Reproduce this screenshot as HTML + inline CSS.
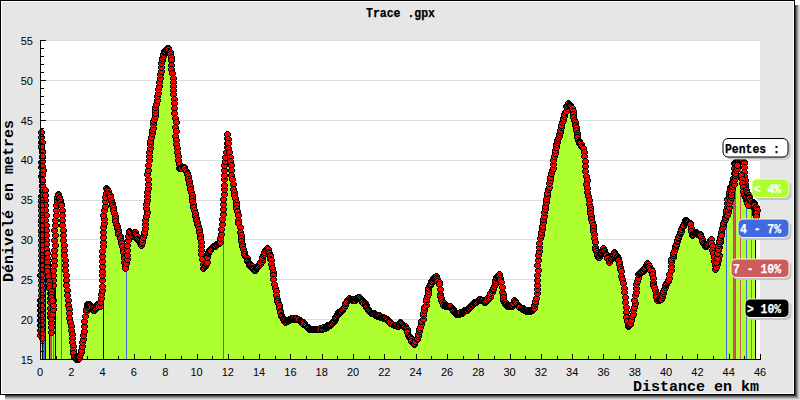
<!DOCTYPE html><html><head><meta charset="utf-8"><style>html,body{margin:0;padding:0;background:#fff;}svg{display:block}text{font-family:"Liberation Sans",sans-serif}.m{font-family:"Liberation Mono",monospace;font-weight:bold}</style></head><body><svg width="800" height="400" viewBox="0 0 800 400"><defs><linearGradient id="shr" x1="0" x2="1" y1="0" y2="0"><stop offset="0" stop-color="#404040"/><stop offset="1" stop-color="#e0e0e0"/></linearGradient><linearGradient id="shb" x1="0" x2="0" y1="0" y2="1"><stop offset="0" stop-color="#404040"/><stop offset="1" stop-color="#e0e0e0"/></linearGradient><g id="mk"><path d="M2 0h3v1h1v1h1v3h-1v1h-1v1h-3v-1h-1v-1h-1v-3h1v-1h1z" fill="#000"/><path d="M2 1h3v1h1v3h-1v1h-3v-1h-1v-3h1z" fill="#f00"/></g><clipPath id="pc"><rect x="40" y="40" width="720" height="320"/></clipPath><clipPath id="mc"><rect x="36" y="30" width="734" height="333"/></clipPath></defs><rect x="5" y="5" width="795" height="395" fill="#dadada"/><rect x="5" y="5" width="794" height="394" fill="#bebebe"/><rect x="5" y="5" width="793" height="393" fill="#989898"/><rect x="5" y="5" width="792" height="392" fill="#6a6a6a"/><rect x="5" y="5" width="791" height="391" fill="#383838"/><rect x="0" y="0" width="795" height="395" fill="#000"/><rect x="1" y="1" width="793" height="393" fill="#fff"/><rect x="2" y="2" width="791" height="391" fill="#e6e6e6"/><rect x="40" y="40" width="720" height="320" fill="#fff"/><path d="M40 319.5H760 M40 279.5H760 M40 239.5H760 M40 200.5H760 M40 160.5H760 M40 120.5H760 M40 80.5H760 M40 40.5H760" stroke="#dcdcdc" stroke-width="1" fill="none"/><g clip-path="url(#pc)"><polygon points="40,359.5 40.0,335.0 41.0,250.0 41.6,132.0 42.2,180.0 43.0,230.0 44.5,258.0 46.5,262.0 48.0,270.0 49.5,283.0 51.0,332.0 52.5,300.0 54.0,250.0 55.0,225.0 56.0,205.0 58.0,194.0 60.0,200.0 61.5,205.0 63.0,230.0 65.0,270.0 67.5,300.0 69.5,318.0 71.5,334.0 73.0,350.0 74.0,357.0 76.0,359.0 79.0,358.0 81.0,350.0 83.0,335.0 85.6,311.0 87.7,304.0 91.0,306.0 94.0,310.0 97.0,304.0 100.0,306.0 102.0,290.0 103.0,232.0 104.0,210.0 106.4,188.0 110.0,195.0 112.0,205.0 116.0,224.0 120.0,238.0 123.0,252.0 125.6,268.0 127.0,250.0 129.0,231.0 132.0,236.0 135.0,232.0 138.0,240.0 141.0,245.0 142.0,242.0 144.0,232.0 146.0,216.0 147.0,200.0 147.6,188.0 148.0,170.0 149.0,156.0 150.0,144.0 152.0,130.0 154.4,116.0 157.0,100.0 159.0,86.0 160.0,74.0 162.0,60.0 164.0,52.0 167.6,48.0 170.0,54.0 171.0,60.0 172.4,78.0 173.0,90.0 174.0,108.0 175.0,118.0 175.6,136.0 176.4,148.0 178.0,160.0 179.0,168.0 184.0,167.0 187.0,174.0 190.0,186.0 191.0,192.0 193.0,204.0 195.0,216.0 198.0,226.0 200.0,238.0 201.0,250.0 203.0,268.0 205.0,266.0 207.0,262.0 208.0,253.0 212.0,247.0 216.0,244.0 220.0,242.0 221.0,234.0 222.0,224.0 223.4,189.0 225.0,161.0 227.5,134.0 230.2,161.0 233.0,189.0 237.0,211.0 240.0,232.0 242.0,244.0 245.0,256.0 249.0,264.0 254.0,270.0 260.0,264.0 264.0,252.0 267.0,248.0 271.0,260.0 273.7,279.5 276.5,298.7 280.6,315.0 284.7,322.0 291.6,318.0 298.5,319.0 305.0,325.0 310.0,329.0 319.0,329.0 326.0,327.0 332.8,322.0 338.3,312.4 342.0,310.0 346.0,302.0 349.0,298.0 354.0,300.0 359.0,297.0 365.0,304.0 369.0,311.0 376.0,315.0 385.0,318.0 392.0,324.0 398.0,326.0 400.0,322.0 406.0,328.0 409.0,336.0 414.0,344.0 418.0,336.0 421.0,324.0 424.0,310.0 427.0,296.0 429.0,286.0 433.0,278.0 436.0,276.0 439.0,284.0 440.0,294.0 442.0,302.0 445.0,306.0 450.0,306.0 453.0,310.0 456.0,314.0 462.0,312.0 468.0,309.0 474.0,303.0 480.0,299.0 484.0,302.0 489.0,298.0 493.0,288.0 496.0,278.0 499.0,274.0 501.0,282.0 502.0,292.0 504.0,302.0 507.0,306.0 512.0,305.0 514.0,300.0 518.0,306.0 524.0,310.0 530.0,311.0 534.0,308.0 536.0,298.0 537.0,280.0 538.0,260.0 540.0,238.0 542.0,226.0 544.0,212.0 547.0,196.0 550.0,180.0 553.0,164.0 554.0,156.0 556.0,144.0 559.0,134.0 562.0,122.0 565.0,112.0 568.0,103.0 572.0,108.0 574.0,120.0 576.0,130.0 578.0,140.0 583.0,148.0 584.0,156.0 585.0,166.0 586.0,176.0 587.0,188.0 589.0,204.0 591.0,216.0 593.0,228.0 594.4,238.0 595.0,246.5 597.9,257.5 603.4,248.0 608.8,261.6 614.3,252.0 618.5,260.0 621.0,271.0 623.4,287.7 625.3,307.0 627.3,326.0 630.8,323.4 633.6,307.0 636.3,287.7 638.2,274.0 643.2,269.8 647.3,263.0 651.4,271.0 653.6,285.0 657.0,300.0 661.0,298.7 663.8,289.0 668.0,279.5 669.0,277.8 671.3,262.0 674.6,248.5 679.0,235.0 684.8,220.4 690.4,223.8 691.5,235.0 696.0,232.8 700.5,235.0 702.8,243.0 706.0,246.3 710.7,239.5 713.0,253.0 715.0,268.8 718.5,255.0 719.7,241.8 722.0,228.0 725.0,217.0 726.4,210.0 727.6,199.0 730.0,190.0 733.0,178.0 734.5,163.0 739.0,159.0 744.0,163.0 744.5,180.0 745.0,187.3 747.0,196.3 749.4,203.0 754.0,207.6 755.0,214.3 756.0,212.0 756,359.5" fill="#adff2f"/><rect x="42" y="198.7" width="1" height="160.3" fill="#000"/><rect x="43" y="239.3" width="1" height="119.7" fill="#4169e1"/><rect x="44" y="258.0" width="1" height="101.0" fill="#4169e1"/><rect x="45" y="260.0" width="1" height="99.0" fill="#000"/><rect x="49" y="283.0" width="1" height="76.0" fill="#000"/><rect x="50" y="315.7" width="1" height="43.3" fill="#cd5c5c"/><rect x="51" y="321.3" width="1" height="37.7" fill="#4169e1"/><rect x="53" y="266.7" width="1" height="92.3" fill="#4169e1"/><rect x="55" y="215.0" width="1" height="144.0" fill="#000"/><rect x="61" y="205.0" width="1" height="154.0" fill="#4169e1"/><rect x="103" y="221.0" width="1" height="138.0" fill="#000"/><rect x="126" y="256.4" width="1" height="102.6" fill="#4169e1"/><rect x="223" y="187.3" width="1" height="171.7" fill="#4169e1"/><rect x="726" y="209.1" width="1" height="149.9" fill="#4169e1"/><rect x="733" y="173.0" width="1" height="186.0" fill="#4169e1"/><rect x="734" y="163.0" width="1" height="196.0" fill="#cd5c5c"/><rect x="735" y="162.1" width="1" height="196.9" fill="#4169e1"/><rect x="740" y="160.2" width="1" height="198.8" fill="#cd5c5c"/><rect x="746" y="194.1" width="1" height="164.9" fill="#4169e1"/><rect x="751" y="205.1" width="1" height="153.9" fill="#cd5c5c"/><rect x="755" y="213.2" width="1" height="145.8" fill="#000"/></g><g shape-rendering="crispEdges" clip-path="url(#mc)"><use href="#mk" x="37" y="332"/><use href="#mk" x="37" y="327"/><use href="#mk" x="37" y="322"/><use href="#mk" x="37" y="317"/><use href="#mk" x="37" y="312"/><use href="#mk" x="37" y="307"/><use href="#mk" x="37" y="302"/><use href="#mk" x="37" y="297"/><use href="#mk" x="38" y="292"/><use href="#mk" x="38" y="287"/><use href="#mk" x="38" y="282"/><use href="#mk" x="38" y="277"/><use href="#mk" x="37" y="272"/><use href="#mk" x="38" y="267"/><use href="#mk" x="38" y="262"/><use href="#mk" x="38" y="257"/><use href="#mk" x="38" y="252"/><use href="#mk" x="38" y="247"/><use href="#mk" x="38" y="242"/><use href="#mk" x="38" y="237"/><use href="#mk" x="38" y="232"/><use href="#mk" x="38" y="228"/><use href="#mk" x="38" y="222"/><use href="#mk" x="38" y="218"/><use href="#mk" x="38" y="212"/><use href="#mk" x="39" y="207"/><use href="#mk" x="38" y="203"/><use href="#mk" x="38" y="198"/><use href="#mk" x="38" y="193"/><use href="#mk" x="39" y="188"/><use href="#mk" x="39" y="183"/><use href="#mk" x="39" y="178"/><use href="#mk" x="38" y="173"/><use href="#mk" x="39" y="169"/><use href="#mk" x="38" y="164"/><use href="#mk" x="38" y="159"/><use href="#mk" x="39" y="154"/><use href="#mk" x="39" y="148"/><use href="#mk" x="38" y="144"/><use href="#mk" x="38" y="139"/><use href="#mk" x="38" y="134"/><use href="#mk" x="38" y="129"/><use href="#mk" x="38" y="134"/><use href="#mk" x="39" y="139"/><use href="#mk" x="38" y="143"/><use href="#mk" x="39" y="149"/><use href="#mk" x="39" y="153"/><use href="#mk" x="39" y="158"/><use href="#mk" x="39" y="163"/><use href="#mk" x="40" y="167"/><use href="#mk" x="39" y="172"/><use href="#mk" x="39" y="177"/><use href="#mk" x="39" y="182"/><use href="#mk" x="39" y="187"/><use href="#mk" x="39" y="192"/><use href="#mk" x="40" y="197"/><use href="#mk" x="40" y="202"/><use href="#mk" x="40" y="207"/><use href="#mk" x="40" y="212"/><use href="#mk" x="40" y="217"/><use href="#mk" x="40" y="222"/><use href="#mk" x="40" y="227"/><use href="#mk" x="40" y="231"/><use href="#mk" x="40" y="236"/><use href="#mk" x="41" y="241"/><use href="#mk" x="41" y="245"/><use href="#mk" x="41" y="250"/><use href="#mk" x="41" y="255"/><use href="#mk" x="42" y="256"/><use href="#mk" x="42" y="257"/><use href="#mk" x="43" y="258"/><use href="#mk" x="44" y="259"/><use href="#mk" x="44" y="262"/><use href="#mk" x="44" y="264"/><use href="#mk" x="45" y="267"/><use href="#mk" x="46" y="271"/><use href="#mk" x="46" y="276"/><use href="#mk" x="47" y="280"/><use href="#mk" x="47" y="284"/><use href="#mk" x="47" y="290"/><use href="#mk" x="47" y="295"/><use href="#mk" x="47" y="299"/><use href="#mk" x="47" y="305"/><use href="#mk" x="47" y="310"/><use href="#mk" x="47" y="314"/><use href="#mk" x="48" y="320"/><use href="#mk" x="48" y="324"/><use href="#mk" x="48" y="329"/><use href="#mk" x="48" y="324"/><use href="#mk" x="48" y="319"/><use href="#mk" x="48" y="315"/><use href="#mk" x="49" y="311"/><use href="#mk" x="50" y="306"/><use href="#mk" x="50" y="302"/><use href="#mk" x="50" y="297"/><use href="#mk" x="49" y="292"/><use href="#mk" x="49" y="287"/><use href="#mk" x="50" y="282"/><use href="#mk" x="50" y="277"/><use href="#mk" x="50" y="272"/><use href="#mk" x="50" y="267"/><use href="#mk" x="51" y="262"/><use href="#mk" x="51" y="257"/><use href="#mk" x="51" y="252"/><use href="#mk" x="51" y="247"/><use href="#mk" x="52" y="242"/><use href="#mk" x="51" y="237"/><use href="#mk" x="52" y="232"/><use href="#mk" x="51" y="227"/><use href="#mk" x="52" y="222"/><use href="#mk" x="52" y="217"/><use href="#mk" x="53" y="212"/><use href="#mk" x="53" y="207"/><use href="#mk" x="53" y="202"/><use href="#mk" x="54" y="199"/><use href="#mk" x="54" y="197"/><use href="#mk" x="54" y="194"/><use href="#mk" x="55" y="191"/><use href="#mk" x="55" y="192"/><use href="#mk" x="56" y="194"/><use href="#mk" x="56" y="195"/><use href="#mk" x="57" y="197"/><use href="#mk" x="57" y="199"/><use href="#mk" x="58" y="201"/><use href="#mk" x="58" y="202"/><use href="#mk" x="59" y="207"/><use href="#mk" x="59" y="212"/><use href="#mk" x="59" y="217"/><use href="#mk" x="59" y="222"/><use href="#mk" x="60" y="227"/><use href="#mk" x="60" y="232"/><use href="#mk" x="60" y="237"/><use href="#mk" x="61" y="242"/><use href="#mk" x="61" y="247"/><use href="#mk" x="61" y="252"/><use href="#mk" x="62" y="257"/><use href="#mk" x="62" y="262"/><use href="#mk" x="62" y="267"/><use href="#mk" x="63" y="272"/><use href="#mk" x="63" y="277"/><use href="#mk" x="63" y="282"/><use href="#mk" x="64" y="287"/><use href="#mk" x="64" y="292"/><use href="#mk" x="65" y="297"/><use href="#mk" x="65" y="302"/><use href="#mk" x="66" y="306"/><use href="#mk" x="66" y="310"/><use href="#mk" x="66" y="315"/><use href="#mk" x="67" y="319"/><use href="#mk" x="68" y="323"/><use href="#mk" x="68" y="327"/><use href="#mk" x="69" y="331"/><use href="#mk" x="69" y="335"/><use href="#mk" x="69" y="339"/><use href="#mk" x="70" y="343"/><use href="#mk" x="70" y="347"/><use href="#mk" x="70" y="350"/><use href="#mk" x="71" y="354"/><use href="#mk" x="71" y="354"/><use href="#mk" x="72" y="355"/><use href="#mk" x="73" y="355"/><use href="#mk" x="73" y="356"/><use href="#mk" x="74" y="356"/><use href="#mk" x="74" y="356"/><use href="#mk" x="75" y="356"/><use href="#mk" x="75" y="355"/><use href="#mk" x="76" y="355"/><use href="#mk" x="76" y="353"/><use href="#mk" x="77" y="351"/><use href="#mk" x="78" y="349"/><use href="#mk" x="78" y="347"/><use href="#mk" x="79" y="343"/><use href="#mk" x="79" y="339"/><use href="#mk" x="80" y="336"/><use href="#mk" x="80" y="332"/><use href="#mk" x="81" y="328"/><use href="#mk" x="81" y="323"/><use href="#mk" x="81" y="318"/><use href="#mk" x="82" y="313"/><use href="#mk" x="83" y="308"/><use href="#mk" x="83" y="306"/><use href="#mk" x="84" y="304"/><use href="#mk" x="84" y="302"/><use href="#mk" x="84" y="301"/><use href="#mk" x="85" y="301"/><use href="#mk" x="86" y="301"/><use href="#mk" x="86" y="302"/><use href="#mk" x="87" y="302"/><use href="#mk" x="87" y="302"/><use href="#mk" x="88" y="303"/><use href="#mk" x="88" y="304"/><use href="#mk" x="90" y="304"/><use href="#mk" x="90" y="305"/><use href="#mk" x="90" y="307"/><use href="#mk" x="91" y="307"/><use href="#mk" x="92" y="306"/><use href="#mk" x="92" y="305"/><use href="#mk" x="93" y="304"/><use href="#mk" x="93" y="302"/><use href="#mk" x="94" y="301"/><use href="#mk" x="94" y="302"/><use href="#mk" x="95" y="301"/><use href="#mk" x="95" y="303"/><use href="#mk" x="97" y="303"/><use href="#mk" x="97" y="303"/><use href="#mk" x="97" y="299"/><use href="#mk" x="98" y="295"/><use href="#mk" x="98" y="291"/><use href="#mk" x="99" y="287"/><use href="#mk" x="99" y="283"/><use href="#mk" x="99" y="277"/><use href="#mk" x="99" y="272"/><use href="#mk" x="99" y="268"/><use href="#mk" x="99" y="263"/><use href="#mk" x="99" y="258"/><use href="#mk" x="99" y="253"/><use href="#mk" x="99" y="248"/><use href="#mk" x="100" y="243"/><use href="#mk" x="100" y="239"/><use href="#mk" x="100" y="234"/><use href="#mk" x="100" y="229"/><use href="#mk" x="100" y="224"/><use href="#mk" x="101" y="220"/><use href="#mk" x="101" y="216"/><use href="#mk" x="100" y="212"/><use href="#mk" x="101" y="207"/><use href="#mk" x="102" y="203"/><use href="#mk" x="102" y="198"/><use href="#mk" x="102" y="194"/><use href="#mk" x="103" y="190"/><use href="#mk" x="103" y="185"/><use href="#mk" x="104" y="186"/><use href="#mk" x="104" y="187"/><use href="#mk" x="105" y="188"/><use href="#mk" x="105" y="190"/><use href="#mk" x="106" y="191"/><use href="#mk" x="107" y="192"/><use href="#mk" x="107" y="194"/><use href="#mk" x="108" y="197"/><use href="#mk" x="109" y="200"/><use href="#mk" x="109" y="202"/><use href="#mk" x="110" y="204"/><use href="#mk" x="110" y="207"/><use href="#mk" x="111" y="210"/><use href="#mk" x="112" y="213"/><use href="#mk" x="112" y="215"/><use href="#mk" x="112" y="218"/><use href="#mk" x="113" y="221"/><use href="#mk" x="114" y="223"/><use href="#mk" x="114" y="225"/><use href="#mk" x="115" y="227"/><use href="#mk" x="115" y="229"/><use href="#mk" x="115" y="231"/><use href="#mk" x="117" y="233"/><use href="#mk" x="117" y="235"/><use href="#mk" x="118" y="238"/><use href="#mk" x="118" y="240"/><use href="#mk" x="119" y="243"/><use href="#mk" x="120" y="247"/><use href="#mk" x="120" y="249"/><use href="#mk" x="121" y="253"/><use href="#mk" x="121" y="255"/><use href="#mk" x="121" y="259"/><use href="#mk" x="122" y="262"/><use href="#mk" x="122" y="265"/><use href="#mk" x="123" y="260"/><use href="#mk" x="124" y="256"/><use href="#mk" x="124" y="252"/><use href="#mk" x="124" y="247"/><use href="#mk" x="124" y="242"/><use href="#mk" x="125" y="237"/><use href="#mk" x="125" y="233"/><use href="#mk" x="126" y="228"/><use href="#mk" x="126" y="229"/><use href="#mk" x="127" y="230"/><use href="#mk" x="128" y="231"/><use href="#mk" x="129" y="232"/><use href="#mk" x="129" y="233"/><use href="#mk" x="129" y="232"/><use href="#mk" x="131" y="231"/><use href="#mk" x="131" y="231"/><use href="#mk" x="131" y="229"/><use href="#mk" x="132" y="229"/><use href="#mk" x="132" y="231"/><use href="#mk" x="133" y="232"/><use href="#mk" x="134" y="233"/><use href="#mk" x="134" y="236"/><use href="#mk" x="135" y="237"/><use href="#mk" x="136" y="238"/><use href="#mk" x="137" y="239"/><use href="#mk" x="137" y="240"/><use href="#mk" x="138" y="241"/><use href="#mk" x="138" y="242"/><use href="#mk" x="138" y="240"/><use href="#mk" x="139" y="239"/><use href="#mk" x="139" y="236"/><use href="#mk" x="140" y="234"/><use href="#mk" x="141" y="231"/><use href="#mk" x="141" y="229"/><use href="#mk" x="142" y="225"/><use href="#mk" x="142" y="221"/><use href="#mk" x="142" y="217"/><use href="#mk" x="143" y="213"/><use href="#mk" x="144" y="209"/><use href="#mk" x="143" y="205"/><use href="#mk" x="143" y="201"/><use href="#mk" x="144" y="197"/><use href="#mk" x="144" y="193"/><use href="#mk" x="144" y="189"/><use href="#mk" x="145" y="185"/><use href="#mk" x="145" y="181"/><use href="#mk" x="145" y="176"/><use href="#mk" x="144" y="171"/><use href="#mk" x="145" y="167"/><use href="#mk" x="145" y="162"/><use href="#mk" x="146" y="157"/><use href="#mk" x="146" y="153"/><use href="#mk" x="146" y="149"/><use href="#mk" x="147" y="145"/><use href="#mk" x="147" y="141"/><use href="#mk" x="147" y="138"/><use href="#mk" x="148" y="134"/><use href="#mk" x="149" y="130"/><use href="#mk" x="149" y="127"/><use href="#mk" x="150" y="125"/><use href="#mk" x="150" y="121"/><use href="#mk" x="150" y="118"/><use href="#mk" x="151" y="116"/><use href="#mk" x="152" y="113"/><use href="#mk" x="152" y="110"/><use href="#mk" x="152" y="107"/><use href="#mk" x="152" y="104"/><use href="#mk" x="153" y="101"/><use href="#mk" x="154" y="97"/><use href="#mk" x="154" y="93"/><use href="#mk" x="155" y="90"/><use href="#mk" x="155" y="86"/><use href="#mk" x="156" y="83"/><use href="#mk" x="156" y="79"/><use href="#mk" x="157" y="75"/><use href="#mk" x="157" y="71"/><use href="#mk" x="158" y="68"/><use href="#mk" x="158" y="64"/><use href="#mk" x="158" y="60"/><use href="#mk" x="159" y="57"/><use href="#mk" x="159" y="55"/><use href="#mk" x="160" y="53"/><use href="#mk" x="160" y="51"/><use href="#mk" x="161" y="49"/><use href="#mk" x="161" y="48"/><use href="#mk" x="162" y="48"/><use href="#mk" x="163" y="47"/><use href="#mk" x="164" y="47"/><use href="#mk" x="164" y="45"/><use href="#mk" x="165" y="45"/><use href="#mk" x="165" y="46"/><use href="#mk" x="165" y="48"/><use href="#mk" x="166" y="49"/><use href="#mk" x="167" y="49"/><use href="#mk" x="167" y="51"/><use href="#mk" x="168" y="54"/><use href="#mk" x="168" y="57"/><use href="#mk" x="168" y="62"/><use href="#mk" x="168" y="66"/><use href="#mk" x="169" y="70"/><use href="#mk" x="170" y="75"/><use href="#mk" x="170" y="79"/><use href="#mk" x="170" y="83"/><use href="#mk" x="170" y="87"/><use href="#mk" x="170" y="91"/><use href="#mk" x="171" y="96"/><use href="#mk" x="171" y="100"/><use href="#mk" x="171" y="105"/><use href="#mk" x="171" y="110"/><use href="#mk" x="172" y="115"/><use href="#mk" x="173" y="119"/><use href="#mk" x="172" y="124"/><use href="#mk" x="173" y="128"/><use href="#mk" x="172" y="133"/><use href="#mk" x="173" y="137"/><use href="#mk" x="173" y="141"/><use href="#mk" x="174" y="145"/><use href="#mk" x="174" y="149"/><use href="#mk" x="175" y="153"/><use href="#mk" x="175" y="157"/><use href="#mk" x="176" y="161"/><use href="#mk" x="176" y="165"/><use href="#mk" x="176" y="165"/><use href="#mk" x="178" y="165"/><use href="#mk" x="177" y="165"/><use href="#mk" x="178" y="164"/><use href="#mk" x="178" y="165"/><use href="#mk" x="180" y="164"/><use href="#mk" x="180" y="164"/><use href="#mk" x="180" y="164"/><use href="#mk" x="181" y="164"/><use href="#mk" x="181" y="165"/><use href="#mk" x="182" y="167"/><use href="#mk" x="183" y="168"/><use href="#mk" x="184" y="170"/><use href="#mk" x="184" y="171"/><use href="#mk" x="185" y="173"/><use href="#mk" x="185" y="176"/><use href="#mk" x="186" y="178"/><use href="#mk" x="186" y="181"/><use href="#mk" x="187" y="183"/><use href="#mk" x="187" y="186"/><use href="#mk" x="188" y="189"/><use href="#mk" x="189" y="192"/><use href="#mk" x="189" y="195"/><use href="#mk" x="189" y="198"/><use href="#mk" x="190" y="201"/><use href="#mk" x="190" y="204"/><use href="#mk" x="191" y="207"/><use href="#mk" x="192" y="210"/><use href="#mk" x="192" y="213"/><use href="#mk" x="193" y="215"/><use href="#mk" x="193" y="217"/><use href="#mk" x="194" y="219"/><use href="#mk" x="194" y="221"/><use href="#mk" x="195" y="223"/><use href="#mk" x="196" y="226"/><use href="#mk" x="196" y="229"/><use href="#mk" x="197" y="232"/><use href="#mk" x="197" y="235"/><use href="#mk" x="198" y="239"/><use href="#mk" x="198" y="243"/><use href="#mk" x="198" y="247"/><use href="#mk" x="198" y="251"/><use href="#mk" x="199" y="256"/><use href="#mk" x="200" y="261"/><use href="#mk" x="200" y="265"/><use href="#mk" x="201" y="264"/><use href="#mk" x="201" y="264"/><use href="#mk" x="202" y="263"/><use href="#mk" x="202" y="263"/><use href="#mk" x="202" y="262"/><use href="#mk" x="203" y="261"/><use href="#mk" x="203" y="260"/><use href="#mk" x="204" y="259"/><use href="#mk" x="204" y="254"/><use href="#mk" x="205" y="250"/><use href="#mk" x="205" y="249"/><use href="#mk" x="206" y="248"/><use href="#mk" x="206" y="247"/><use href="#mk" x="207" y="247"/><use href="#mk" x="208" y="245"/><use href="#mk" x="208" y="245"/><use href="#mk" x="209" y="244"/><use href="#mk" x="209" y="244"/><use href="#mk" x="210" y="243"/><use href="#mk" x="211" y="243"/><use href="#mk" x="212" y="243"/><use href="#mk" x="212" y="242"/><use href="#mk" x="213" y="241"/><use href="#mk" x="213" y="241"/><use href="#mk" x="213" y="241"/><use href="#mk" x="214" y="241"/><use href="#mk" x="215" y="240"/><use href="#mk" x="215" y="240"/><use href="#mk" x="216" y="240"/><use href="#mk" x="216" y="239"/><use href="#mk" x="217" y="239"/><use href="#mk" x="217" y="235"/><use href="#mk" x="218" y="231"/><use href="#mk" x="218" y="226"/><use href="#mk" x="219" y="221"/><use href="#mk" x="219" y="216"/><use href="#mk" x="220" y="211"/><use href="#mk" x="220" y="206"/><use href="#mk" x="220" y="201"/><use href="#mk" x="220" y="196"/><use href="#mk" x="221" y="191"/><use href="#mk" x="221" y="186"/><use href="#mk" x="221" y="182"/><use href="#mk" x="221" y="176"/><use href="#mk" x="221" y="172"/><use href="#mk" x="221" y="167"/><use href="#mk" x="221" y="162"/><use href="#mk" x="222" y="158"/><use href="#mk" x="222" y="154"/><use href="#mk" x="223" y="149"/><use href="#mk" x="224" y="144"/><use href="#mk" x="224" y="140"/><use href="#mk" x="224" y="135"/><use href="#mk" x="224" y="131"/><use href="#mk" x="225" y="136"/><use href="#mk" x="225" y="140"/><use href="#mk" x="225" y="145"/><use href="#mk" x="226" y="149"/><use href="#mk" x="227" y="154"/><use href="#mk" x="227" y="158"/><use href="#mk" x="228" y="162"/><use href="#mk" x="228" y="167"/><use href="#mk" x="228" y="172"/><use href="#mk" x="229" y="176"/><use href="#mk" x="230" y="181"/><use href="#mk" x="230" y="186"/><use href="#mk" x="231" y="189"/><use href="#mk" x="231" y="192"/><use href="#mk" x="232" y="195"/><use href="#mk" x="233" y="199"/><use href="#mk" x="233" y="202"/><use href="#mk" x="233" y="205"/><use href="#mk" x="234" y="208"/><use href="#mk" x="235" y="212"/><use href="#mk" x="235" y="217"/><use href="#mk" x="235" y="220"/><use href="#mk" x="237" y="224"/><use href="#mk" x="237" y="229"/><use href="#mk" x="238" y="232"/><use href="#mk" x="238" y="235"/><use href="#mk" x="238" y="238"/><use href="#mk" x="239" y="241"/><use href="#mk" x="239" y="243"/><use href="#mk" x="240" y="246"/><use href="#mk" x="241" y="249"/><use href="#mk" x="241" y="251"/><use href="#mk" x="242" y="253"/><use href="#mk" x="243" y="254"/><use href="#mk" x="244" y="255"/><use href="#mk" x="244" y="257"/><use href="#mk" x="244" y="258"/><use href="#mk" x="245" y="259"/><use href="#mk" x="246" y="260"/><use href="#mk" x="246" y="261"/><use href="#mk" x="246" y="262"/><use href="#mk" x="247" y="262"/><use href="#mk" x="248" y="263"/><use href="#mk" x="249" y="263"/><use href="#mk" x="249" y="265"/><use href="#mk" x="249" y="265"/><use href="#mk" x="250" y="265"/><use href="#mk" x="250" y="266"/><use href="#mk" x="251" y="267"/><use href="#mk" x="252" y="267"/><use href="#mk" x="252" y="266"/><use href="#mk" x="253" y="265"/><use href="#mk" x="253" y="264"/><use href="#mk" x="254" y="264"/><use href="#mk" x="254" y="263"/><use href="#mk" x="255" y="263"/><use href="#mk" x="256" y="262"/><use href="#mk" x="256" y="262"/><use href="#mk" x="257" y="261"/><use href="#mk" x="257" y="259"/><use href="#mk" x="259" y="258"/><use href="#mk" x="259" y="256"/><use href="#mk" x="259" y="254"/><use href="#mk" x="260" y="252"/><use href="#mk" x="261" y="251"/><use href="#mk" x="261" y="249"/><use href="#mk" x="261" y="249"/><use href="#mk" x="262" y="247"/><use href="#mk" x="263" y="246"/><use href="#mk" x="263" y="246"/><use href="#mk" x="264" y="245"/><use href="#mk" x="265" y="246"/><use href="#mk" x="265" y="249"/><use href="#mk" x="266" y="250"/><use href="#mk" x="267" y="252"/><use href="#mk" x="267" y="253"/><use href="#mk" x="267" y="256"/><use href="#mk" x="268" y="257"/><use href="#mk" x="268" y="261"/><use href="#mk" x="269" y="265"/><use href="#mk" x="270" y="269"/><use href="#mk" x="270" y="272"/><use href="#mk" x="270" y="276"/><use href="#mk" x="271" y="281"/><use href="#mk" x="272" y="285"/><use href="#mk" x="273" y="288"/><use href="#mk" x="273" y="292"/><use href="#mk" x="274" y="296"/><use href="#mk" x="274" y="298"/><use href="#mk" x="275" y="300"/><use href="#mk" x="276" y="302"/><use href="#mk" x="276" y="305"/><use href="#mk" x="277" y="308"/><use href="#mk" x="277" y="309"/><use href="#mk" x="278" y="312"/><use href="#mk" x="278" y="313"/><use href="#mk" x="279" y="314"/><use href="#mk" x="280" y="315"/><use href="#mk" x="280" y="316"/><use href="#mk" x="281" y="317"/><use href="#mk" x="281" y="318"/><use href="#mk" x="282" y="319"/><use href="#mk" x="282" y="319"/><use href="#mk" x="282" y="319"/><use href="#mk" x="283" y="318"/><use href="#mk" x="284" y="318"/><use href="#mk" x="284" y="317"/><use href="#mk" x="285" y="317"/><use href="#mk" x="286" y="317"/><use href="#mk" x="286" y="317"/><use href="#mk" x="286" y="316"/><use href="#mk" x="287" y="316"/><use href="#mk" x="288" y="316"/><use href="#mk" x="288" y="315"/><use href="#mk" x="290" y="316"/><use href="#mk" x="289" y="315"/><use href="#mk" x="290" y="315"/><use href="#mk" x="291" y="316"/><use href="#mk" x="292" y="316"/><use href="#mk" x="292" y="315"/><use href="#mk" x="292" y="315"/><use href="#mk" x="293" y="315"/><use href="#mk" x="294" y="316"/><use href="#mk" x="294" y="316"/><use href="#mk" x="295" y="316"/><use href="#mk" x="295" y="316"/><use href="#mk" x="297" y="317"/><use href="#mk" x="297" y="317"/><use href="#mk" x="297" y="318"/><use href="#mk" x="298" y="318"/><use href="#mk" x="298" y="319"/><use href="#mk" x="299" y="319"/><use href="#mk" x="300" y="319"/><use href="#mk" x="301" y="320"/><use href="#mk" x="300" y="321"/><use href="#mk" x="302" y="322"/><use href="#mk" x="302" y="322"/><use href="#mk" x="303" y="323"/><use href="#mk" x="303" y="323"/><use href="#mk" x="304" y="324"/><use href="#mk" x="304" y="324"/><use href="#mk" x="305" y="324"/><use href="#mk" x="306" y="325"/><use href="#mk" x="305" y="325"/><use href="#mk" x="306" y="326"/><use href="#mk" x="307" y="326"/><use href="#mk" x="308" y="326"/><use href="#mk" x="308" y="326"/><use href="#mk" x="309" y="326"/><use href="#mk" x="310" y="326"/><use href="#mk" x="310" y="326"/><use href="#mk" x="311" y="326"/><use href="#mk" x="311" y="326"/><use href="#mk" x="312" y="326"/><use href="#mk" x="312" y="326"/><use href="#mk" x="313" y="326"/><use href="#mk" x="313" y="326"/><use href="#mk" x="314" y="326"/><use href="#mk" x="315" y="326"/><use href="#mk" x="315" y="326"/><use href="#mk" x="316" y="326"/><use href="#mk" x="316" y="326"/><use href="#mk" x="318" y="325"/><use href="#mk" x="317" y="325"/><use href="#mk" x="319" y="326"/><use href="#mk" x="319" y="325"/><use href="#mk" x="319" y="325"/><use href="#mk" x="320" y="324"/><use href="#mk" x="320" y="324"/><use href="#mk" x="322" y="325"/><use href="#mk" x="321" y="325"/><use href="#mk" x="322" y="324"/><use href="#mk" x="323" y="324"/><use href="#mk" x="324" y="324"/><use href="#mk" x="324" y="323"/><use href="#mk" x="324" y="322"/><use href="#mk" x="325" y="322"/><use href="#mk" x="326" y="322"/><use href="#mk" x="327" y="322"/><use href="#mk" x="327" y="321"/><use href="#mk" x="327" y="321"/><use href="#mk" x="328" y="320"/><use href="#mk" x="329" y="320"/><use href="#mk" x="329" y="320"/><use href="#mk" x="330" y="319"/><use href="#mk" x="331" y="318"/><use href="#mk" x="331" y="317"/><use href="#mk" x="332" y="316"/><use href="#mk" x="332" y="315"/><use href="#mk" x="332" y="314"/><use href="#mk" x="333" y="313"/><use href="#mk" x="334" y="312"/><use href="#mk" x="334" y="311"/><use href="#mk" x="335" y="310"/><use href="#mk" x="335" y="309"/><use href="#mk" x="336" y="309"/><use href="#mk" x="336" y="309"/><use href="#mk" x="337" y="308"/><use href="#mk" x="337" y="309"/><use href="#mk" x="337" y="308"/><use href="#mk" x="338" y="308"/><use href="#mk" x="339" y="307"/><use href="#mk" x="339" y="306"/><use href="#mk" x="340" y="305"/><use href="#mk" x="341" y="304"/><use href="#mk" x="342" y="302"/><use href="#mk" x="342" y="302"/><use href="#mk" x="342" y="300"/><use href="#mk" x="343" y="299"/><use href="#mk" x="343" y="299"/><use href="#mk" x="344" y="297"/><use href="#mk" x="345" y="296"/><use href="#mk" x="345" y="296"/><use href="#mk" x="346" y="295"/><use href="#mk" x="346" y="295"/><use href="#mk" x="347" y="296"/><use href="#mk" x="348" y="296"/><use href="#mk" x="348" y="296"/><use href="#mk" x="349" y="296"/><use href="#mk" x="349" y="297"/><use href="#mk" x="350" y="297"/><use href="#mk" x="350" y="297"/><use href="#mk" x="351" y="297"/><use href="#mk" x="351" y="297"/><use href="#mk" x="352" y="297"/><use href="#mk" x="353" y="296"/><use href="#mk" x="353" y="295"/><use href="#mk" x="354" y="295"/><use href="#mk" x="355" y="295"/><use href="#mk" x="355" y="294"/><use href="#mk" x="355" y="294"/><use href="#mk" x="356" y="294"/><use href="#mk" x="356" y="294"/><use href="#mk" x="357" y="295"/><use href="#mk" x="358" y="296"/><use href="#mk" x="359" y="297"/><use href="#mk" x="359" y="298"/><use href="#mk" x="359" y="299"/><use href="#mk" x="361" y="299"/><use href="#mk" x="360" y="300"/><use href="#mk" x="362" y="300"/><use href="#mk" x="362" y="301"/><use href="#mk" x="363" y="302"/><use href="#mk" x="363" y="303"/><use href="#mk" x="363" y="304"/><use href="#mk" x="364" y="305"/><use href="#mk" x="365" y="306"/><use href="#mk" x="365" y="307"/><use href="#mk" x="366" y="308"/><use href="#mk" x="367" y="309"/><use href="#mk" x="367" y="309"/><use href="#mk" x="367" y="309"/><use href="#mk" x="368" y="310"/><use href="#mk" x="369" y="310"/><use href="#mk" x="370" y="310"/><use href="#mk" x="370" y="310"/><use href="#mk" x="371" y="310"/><use href="#mk" x="371" y="311"/><use href="#mk" x="372" y="311"/><use href="#mk" x="372" y="312"/><use href="#mk" x="373" y="312"/><use href="#mk" x="374" y="312"/><use href="#mk" x="374" y="313"/><use href="#mk" x="375" y="313"/><use href="#mk" x="376" y="312"/><use href="#mk" x="376" y="313"/><use href="#mk" x="376" y="313"/><use href="#mk" x="377" y="314"/><use href="#mk" x="378" y="314"/><use href="#mk" x="378" y="314"/><use href="#mk" x="379" y="314"/><use href="#mk" x="380" y="314"/><use href="#mk" x="380" y="315"/><use href="#mk" x="381" y="315"/><use href="#mk" x="381" y="315"/><use href="#mk" x="382" y="315"/><use href="#mk" x="383" y="316"/><use href="#mk" x="383" y="316"/><use href="#mk" x="384" y="316"/><use href="#mk" x="384" y="317"/><use href="#mk" x="385" y="318"/><use href="#mk" x="386" y="318"/><use href="#mk" x="386" y="318"/><use href="#mk" x="386" y="319"/><use href="#mk" x="387" y="320"/><use href="#mk" x="387" y="320"/><use href="#mk" x="389" y="321"/><use href="#mk" x="389" y="321"/><use href="#mk" x="389" y="321"/><use href="#mk" x="391" y="322"/><use href="#mk" x="391" y="322"/><use href="#mk" x="392" y="322"/><use href="#mk" x="392" y="322"/><use href="#mk" x="393" y="322"/><use href="#mk" x="393" y="322"/><use href="#mk" x="394" y="323"/><use href="#mk" x="395" y="322"/><use href="#mk" x="395" y="323"/><use href="#mk" x="396" y="322"/><use href="#mk" x="396" y="321"/><use href="#mk" x="397" y="320"/><use href="#mk" x="397" y="319"/><use href="#mk" x="397" y="320"/><use href="#mk" x="398" y="320"/><use href="#mk" x="399" y="321"/><use href="#mk" x="399" y="321"/><use href="#mk" x="400" y="322"/><use href="#mk" x="401" y="323"/><use href="#mk" x="402" y="323"/><use href="#mk" x="401" y="324"/><use href="#mk" x="402" y="325"/><use href="#mk" x="403" y="325"/><use href="#mk" x="404" y="326"/><use href="#mk" x="404" y="328"/><use href="#mk" x="404" y="329"/><use href="#mk" x="405" y="332"/><use href="#mk" x="406" y="333"/><use href="#mk" x="406" y="334"/><use href="#mk" x="407" y="334"/><use href="#mk" x="408" y="335"/><use href="#mk" x="408" y="336"/><use href="#mk" x="408" y="338"/><use href="#mk" x="410" y="339"/><use href="#mk" x="410" y="339"/><use href="#mk" x="411" y="340"/><use href="#mk" x="411" y="341"/><use href="#mk" x="411" y="340"/><use href="#mk" x="412" y="338"/><use href="#mk" x="412" y="338"/><use href="#mk" x="414" y="336"/><use href="#mk" x="414" y="336"/><use href="#mk" x="414" y="335"/><use href="#mk" x="415" y="333"/><use href="#mk" x="415" y="331"/><use href="#mk" x="416" y="328"/><use href="#mk" x="416" y="326"/><use href="#mk" x="417" y="324"/><use href="#mk" x="418" y="321"/><use href="#mk" x="418" y="318"/><use href="#mk" x="420" y="316"/><use href="#mk" x="420" y="312"/><use href="#mk" x="420" y="310"/><use href="#mk" x="421" y="307"/><use href="#mk" x="421" y="304"/><use href="#mk" x="423" y="302"/><use href="#mk" x="423" y="298"/><use href="#mk" x="423" y="296"/><use href="#mk" x="424" y="293"/><use href="#mk" x="425" y="291"/><use href="#mk" x="425" y="288"/><use href="#mk" x="425" y="285"/><use href="#mk" x="426" y="283"/><use href="#mk" x="427" y="282"/><use href="#mk" x="427" y="281"/><use href="#mk" x="428" y="280"/><use href="#mk" x="428" y="278"/><use href="#mk" x="429" y="278"/><use href="#mk" x="430" y="277"/><use href="#mk" x="430" y="275"/><use href="#mk" x="431" y="275"/><use href="#mk" x="431" y="274"/><use href="#mk" x="432" y="274"/><use href="#mk" x="433" y="274"/><use href="#mk" x="433" y="273"/><use href="#mk" x="433" y="275"/><use href="#mk" x="434" y="276"/><use href="#mk" x="434" y="278"/><use href="#mk" x="436" y="279"/><use href="#mk" x="436" y="281"/><use href="#mk" x="437" y="286"/><use href="#mk" x="437" y="291"/><use href="#mk" x="437" y="293"/><use href="#mk" x="438" y="295"/><use href="#mk" x="438" y="297"/><use href="#mk" x="439" y="299"/><use href="#mk" x="439" y="299"/><use href="#mk" x="441" y="300"/><use href="#mk" x="440" y="302"/><use href="#mk" x="442" y="302"/><use href="#mk" x="442" y="303"/><use href="#mk" x="443" y="303"/><use href="#mk" x="443" y="303"/><use href="#mk" x="444" y="303"/><use href="#mk" x="444" y="303"/><use href="#mk" x="445" y="303"/><use href="#mk" x="446" y="303"/><use href="#mk" x="446" y="303"/><use href="#mk" x="446" y="303"/><use href="#mk" x="447" y="303"/><use href="#mk" x="447" y="303"/><use href="#mk" x="448" y="305"/><use href="#mk" x="449" y="306"/><use href="#mk" x="450" y="306"/><use href="#mk" x="450" y="307"/><use href="#mk" x="450" y="308"/><use href="#mk" x="451" y="309"/><use href="#mk" x="452" y="310"/><use href="#mk" x="453" y="310"/><use href="#mk" x="453" y="311"/><use href="#mk" x="454" y="311"/><use href="#mk" x="454" y="310"/><use href="#mk" x="455" y="310"/><use href="#mk" x="456" y="311"/><use href="#mk" x="456" y="310"/><use href="#mk" x="457" y="310"/><use href="#mk" x="457" y="310"/><use href="#mk" x="457" y="309"/><use href="#mk" x="459" y="310"/><use href="#mk" x="459" y="309"/><use href="#mk" x="460" y="309"/><use href="#mk" x="460" y="308"/><use href="#mk" x="461" y="308"/><use href="#mk" x="461" y="307"/><use href="#mk" x="462" y="307"/><use href="#mk" x="463" y="307"/><use href="#mk" x="463" y="307"/><use href="#mk" x="463" y="307"/><use href="#mk" x="464" y="307"/><use href="#mk" x="465" y="306"/><use href="#mk" x="465" y="305"/><use href="#mk" x="466" y="305"/><use href="#mk" x="467" y="304"/><use href="#mk" x="467" y="303"/><use href="#mk" x="468" y="303"/><use href="#mk" x="469" y="302"/><use href="#mk" x="469" y="301"/><use href="#mk" x="470" y="301"/><use href="#mk" x="470" y="301"/><use href="#mk" x="471" y="300"/><use href="#mk" x="471" y="299"/><use href="#mk" x="473" y="299"/><use href="#mk" x="472" y="299"/><use href="#mk" x="473" y="299"/><use href="#mk" x="474" y="298"/><use href="#mk" x="474" y="298"/><use href="#mk" x="475" y="297"/><use href="#mk" x="476" y="297"/><use href="#mk" x="476" y="296"/><use href="#mk" x="477" y="296"/><use href="#mk" x="478" y="297"/><use href="#mk" x="478" y="297"/><use href="#mk" x="479" y="297"/><use href="#mk" x="480" y="298"/><use href="#mk" x="480" y="298"/><use href="#mk" x="481" y="298"/><use href="#mk" x="481" y="299"/><use href="#mk" x="482" y="299"/><use href="#mk" x="482" y="298"/><use href="#mk" x="483" y="297"/><use href="#mk" x="483" y="297"/><use href="#mk" x="483" y="297"/><use href="#mk" x="485" y="296"/><use href="#mk" x="484" y="295"/><use href="#mk" x="486" y="295"/><use href="#mk" x="486" y="295"/><use href="#mk" x="487" y="294"/><use href="#mk" x="487" y="292"/><use href="#mk" x="487" y="290"/><use href="#mk" x="489" y="289"/><use href="#mk" x="489" y="287"/><use href="#mk" x="490" y="286"/><use href="#mk" x="490" y="285"/><use href="#mk" x="491" y="283"/><use href="#mk" x="492" y="281"/><use href="#mk" x="492" y="279"/><use href="#mk" x="492" y="277"/><use href="#mk" x="493" y="275"/><use href="#mk" x="493" y="274"/><use href="#mk" x="494" y="273"/><use href="#mk" x="495" y="273"/><use href="#mk" x="495" y="272"/><use href="#mk" x="496" y="271"/><use href="#mk" x="496" y="273"/><use href="#mk" x="497" y="275"/><use href="#mk" x="497" y="277"/><use href="#mk" x="498" y="279"/><use href="#mk" x="499" y="284"/><use href="#mk" x="499" y="289"/><use href="#mk" x="500" y="291"/><use href="#mk" x="500" y="294"/><use href="#mk" x="500" y="297"/><use href="#mk" x="501" y="299"/><use href="#mk" x="502" y="299"/><use href="#mk" x="502" y="301"/><use href="#mk" x="503" y="301"/><use href="#mk" x="504" y="302"/><use href="#mk" x="504" y="303"/><use href="#mk" x="504" y="303"/><use href="#mk" x="505" y="303"/><use href="#mk" x="505" y="302"/><use href="#mk" x="506" y="302"/><use href="#mk" x="507" y="303"/><use href="#mk" x="507" y="302"/><use href="#mk" x="508" y="302"/><use href="#mk" x="509" y="303"/><use href="#mk" x="509" y="302"/><use href="#mk" x="510" y="301"/><use href="#mk" x="510" y="300"/><use href="#mk" x="511" y="298"/><use href="#mk" x="511" y="297"/><use href="#mk" x="512" y="298"/><use href="#mk" x="512" y="299"/><use href="#mk" x="513" y="300"/><use href="#mk" x="513" y="300"/><use href="#mk" x="514" y="302"/><use href="#mk" x="514" y="302"/><use href="#mk" x="515" y="303"/><use href="#mk" x="516" y="303"/><use href="#mk" x="516" y="304"/><use href="#mk" x="516" y="304"/><use href="#mk" x="518" y="305"/><use href="#mk" x="518" y="305"/><use href="#mk" x="519" y="306"/><use href="#mk" x="520" y="305"/><use href="#mk" x="520" y="306"/><use href="#mk" x="521" y="306"/><use href="#mk" x="521" y="307"/><use href="#mk" x="522" y="307"/><use href="#mk" x="522" y="307"/><use href="#mk" x="523" y="307"/><use href="#mk" x="523" y="308"/><use href="#mk" x="524" y="308"/><use href="#mk" x="525" y="308"/><use href="#mk" x="525" y="308"/><use href="#mk" x="526" y="307"/><use href="#mk" x="526" y="308"/><use href="#mk" x="527" y="308"/><use href="#mk" x="527" y="307"/><use href="#mk" x="528" y="307"/><use href="#mk" x="529" y="307"/><use href="#mk" x="529" y="306"/><use href="#mk" x="530" y="306"/><use href="#mk" x="530" y="305"/><use href="#mk" x="531" y="305"/><use href="#mk" x="531" y="302"/><use href="#mk" x="532" y="300"/><use href="#mk" x="532" y="298"/><use href="#mk" x="533" y="295"/><use href="#mk" x="534" y="290"/><use href="#mk" x="534" y="286"/><use href="#mk" x="534" y="282"/><use href="#mk" x="534" y="277"/><use href="#mk" x="534" y="272"/><use href="#mk" x="535" y="267"/><use href="#mk" x="534" y="262"/><use href="#mk" x="535" y="257"/><use href="#mk" x="535" y="252"/><use href="#mk" x="536" y="248"/><use href="#mk" x="536" y="244"/><use href="#mk" x="536" y="240"/><use href="#mk" x="537" y="235"/><use href="#mk" x="538" y="232"/><use href="#mk" x="538" y="229"/><use href="#mk" x="539" y="226"/><use href="#mk" x="539" y="223"/><use href="#mk" x="540" y="219"/><use href="#mk" x="540" y="216"/><use href="#mk" x="541" y="213"/><use href="#mk" x="541" y="209"/><use href="#mk" x="542" y="206"/><use href="#mk" x="542" y="203"/><use href="#mk" x="543" y="199"/><use href="#mk" x="543" y="196"/><use href="#mk" x="544" y="193"/><use href="#mk" x="544" y="190"/><use href="#mk" x="545" y="186"/><use href="#mk" x="546" y="184"/><use href="#mk" x="546" y="180"/><use href="#mk" x="547" y="177"/><use href="#mk" x="547" y="174"/><use href="#mk" x="548" y="170"/><use href="#mk" x="549" y="167"/><use href="#mk" x="550" y="165"/><use href="#mk" x="550" y="161"/><use href="#mk" x="550" y="157"/><use href="#mk" x="551" y="153"/><use href="#mk" x="552" y="150"/><use href="#mk" x="552" y="147"/><use href="#mk" x="553" y="144"/><use href="#mk" x="553" y="141"/><use href="#mk" x="554" y="139"/><use href="#mk" x="554" y="137"/><use href="#mk" x="555" y="135"/><use href="#mk" x="556" y="133"/><use href="#mk" x="556" y="131"/><use href="#mk" x="557" y="129"/><use href="#mk" x="557" y="127"/><use href="#mk" x="558" y="124"/><use href="#mk" x="558" y="122"/><use href="#mk" x="559" y="119"/><use href="#mk" x="560" y="117"/><use href="#mk" x="560" y="115"/><use href="#mk" x="561" y="113"/><use href="#mk" x="561" y="111"/><use href="#mk" x="562" y="109"/><use href="#mk" x="563" y="108"/><use href="#mk" x="564" y="105"/><use href="#mk" x="563" y="103"/><use href="#mk" x="564" y="102"/><use href="#mk" x="565" y="100"/><use href="#mk" x="566" y="101"/><use href="#mk" x="566" y="102"/><use href="#mk" x="567" y="102"/><use href="#mk" x="567" y="103"/><use href="#mk" x="568" y="104"/><use href="#mk" x="568" y="104"/><use href="#mk" x="569" y="105"/><use href="#mk" x="570" y="108"/><use href="#mk" x="570" y="111"/><use href="#mk" x="570" y="114"/><use href="#mk" x="571" y="117"/><use href="#mk" x="572" y="119"/><use href="#mk" x="572" y="122"/><use href="#mk" x="573" y="124"/><use href="#mk" x="573" y="127"/><use href="#mk" x="574" y="130"/><use href="#mk" x="574" y="132"/><use href="#mk" x="574" y="134"/><use href="#mk" x="575" y="137"/><use href="#mk" x="576" y="138"/><use href="#mk" x="576" y="139"/><use href="#mk" x="576" y="140"/><use href="#mk" x="577" y="140"/><use href="#mk" x="578" y="141"/><use href="#mk" x="578" y="143"/><use href="#mk" x="579" y="144"/><use href="#mk" x="579" y="144"/><use href="#mk" x="580" y="145"/><use href="#mk" x="581" y="149"/><use href="#mk" x="581" y="153"/><use href="#mk" x="582" y="158"/><use href="#mk" x="582" y="163"/><use href="#mk" x="582" y="168"/><use href="#mk" x="583" y="173"/><use href="#mk" x="584" y="177"/><use href="#mk" x="583" y="181"/><use href="#mk" x="584" y="185"/><use href="#mk" x="584" y="189"/><use href="#mk" x="585" y="193"/><use href="#mk" x="586" y="197"/><use href="#mk" x="586" y="201"/><use href="#mk" x="587" y="204"/><use href="#mk" x="587" y="207"/><use href="#mk" x="587" y="210"/><use href="#mk" x="588" y="213"/><use href="#mk" x="588" y="216"/><use href="#mk" x="589" y="219"/><use href="#mk" x="590" y="222"/><use href="#mk" x="590" y="225"/><use href="#mk" x="590" y="228"/><use href="#mk" x="591" y="231"/><use href="#mk" x="591" y="235"/><use href="#mk" x="592" y="239"/><use href="#mk" x="592" y="244"/><use href="#mk" x="592" y="246"/><use href="#mk" x="593" y="248"/><use href="#mk" x="594" y="250"/><use href="#mk" x="594" y="252"/><use href="#mk" x="595" y="254"/><use href="#mk" x="596" y="254"/><use href="#mk" x="596" y="252"/><use href="#mk" x="597" y="251"/><use href="#mk" x="597" y="250"/><use href="#mk" x="598" y="250"/><use href="#mk" x="598" y="249"/><use href="#mk" x="599" y="248"/><use href="#mk" x="599" y="247"/><use href="#mk" x="600" y="246"/><use href="#mk" x="600" y="245"/><use href="#mk" x="601" y="247"/><use href="#mk" x="601" y="248"/><use href="#mk" x="602" y="250"/><use href="#mk" x="603" y="251"/><use href="#mk" x="603" y="252"/><use href="#mk" x="604" y="254"/><use href="#mk" x="604" y="255"/><use href="#mk" x="606" y="257"/><use href="#mk" x="606" y="259"/><use href="#mk" x="606" y="257"/><use href="#mk" x="606" y="257"/><use href="#mk" x="608" y="256"/><use href="#mk" x="608" y="255"/><use href="#mk" x="609" y="254"/><use href="#mk" x="609" y="253"/><use href="#mk" x="610" y="252"/><use href="#mk" x="610" y="251"/><use href="#mk" x="611" y="250"/><use href="#mk" x="611" y="249"/><use href="#mk" x="611" y="250"/><use href="#mk" x="612" y="251"/><use href="#mk" x="612" y="252"/><use href="#mk" x="614" y="253"/><use href="#mk" x="614" y="254"/><use href="#mk" x="615" y="255"/><use href="#mk" x="615" y="256"/><use href="#mk" x="615" y="257"/><use href="#mk" x="616" y="259"/><use href="#mk" x="616" y="261"/><use href="#mk" x="617" y="264"/><use href="#mk" x="617" y="266"/><use href="#mk" x="618" y="268"/><use href="#mk" x="618" y="273"/><use href="#mk" x="619" y="276"/><use href="#mk" x="620" y="280"/><use href="#mk" x="621" y="285"/><use href="#mk" x="621" y="289"/><use href="#mk" x="622" y="294"/><use href="#mk" x="622" y="299"/><use href="#mk" x="623" y="304"/><use href="#mk" x="623" y="309"/><use href="#mk" x="623" y="314"/><use href="#mk" x="624" y="318"/><use href="#mk" x="625" y="323"/><use href="#mk" x="625" y="322"/><use href="#mk" x="626" y="322"/><use href="#mk" x="626" y="322"/><use href="#mk" x="627" y="321"/><use href="#mk" x="627" y="321"/><use href="#mk" x="627" y="320"/><use href="#mk" x="628" y="317"/><use href="#mk" x="629" y="313"/><use href="#mk" x="630" y="311"/><use href="#mk" x="630" y="307"/><use href="#mk" x="631" y="304"/><use href="#mk" x="632" y="300"/><use href="#mk" x="631" y="297"/><use href="#mk" x="632" y="292"/><use href="#mk" x="633" y="289"/><use href="#mk" x="633" y="285"/><use href="#mk" x="633" y="281"/><use href="#mk" x="634" y="278"/><use href="#mk" x="635" y="275"/><use href="#mk" x="635" y="271"/><use href="#mk" x="636" y="270"/><use href="#mk" x="636" y="270"/><use href="#mk" x="637" y="270"/><use href="#mk" x="637" y="269"/><use href="#mk" x="638" y="269"/><use href="#mk" x="638" y="268"/><use href="#mk" x="639" y="267"/><use href="#mk" x="640" y="268"/><use href="#mk" x="640" y="267"/><use href="#mk" x="641" y="266"/><use href="#mk" x="641" y="265"/><use href="#mk" x="642" y="264"/><use href="#mk" x="643" y="262"/><use href="#mk" x="644" y="262"/><use href="#mk" x="644" y="261"/><use href="#mk" x="644" y="260"/><use href="#mk" x="645" y="261"/><use href="#mk" x="645" y="263"/><use href="#mk" x="646" y="263"/><use href="#mk" x="646" y="265"/><use href="#mk" x="648" y="266"/><use href="#mk" x="647" y="267"/><use href="#mk" x="649" y="268"/><use href="#mk" x="649" y="271"/><use href="#mk" x="650" y="275"/><use href="#mk" x="650" y="279"/><use href="#mk" x="650" y="282"/><use href="#mk" x="651" y="284"/><use href="#mk" x="652" y="287"/><use href="#mk" x="653" y="290"/><use href="#mk" x="653" y="292"/><use href="#mk" x="653" y="294"/><use href="#mk" x="654" y="297"/><use href="#mk" x="655" y="296"/><use href="#mk" x="655" y="296"/><use href="#mk" x="656" y="297"/><use href="#mk" x="656" y="296"/><use href="#mk" x="657" y="296"/><use href="#mk" x="658" y="295"/><use href="#mk" x="658" y="296"/><use href="#mk" x="659" y="294"/><use href="#mk" x="659" y="292"/><use href="#mk" x="660" y="290"/><use href="#mk" x="660" y="288"/><use href="#mk" x="661" y="286"/><use href="#mk" x="662" y="284"/><use href="#mk" x="662" y="284"/><use href="#mk" x="662" y="282"/><use href="#mk" x="663" y="281"/><use href="#mk" x="663" y="280"/><use href="#mk" x="664" y="279"/><use href="#mk" x="665" y="278"/><use href="#mk" x="665" y="277"/><use href="#mk" x="666" y="275"/><use href="#mk" x="666" y="275"/><use href="#mk" x="666" y="271"/><use href="#mk" x="668" y="267"/><use href="#mk" x="668" y="263"/><use href="#mk" x="668" y="259"/><use href="#mk" x="668" y="256"/><use href="#mk" x="670" y="254"/><use href="#mk" x="670" y="252"/><use href="#mk" x="670" y="250"/><use href="#mk" x="671" y="248"/><use href="#mk" x="672" y="245"/><use href="#mk" x="672" y="243"/><use href="#mk" x="673" y="242"/><use href="#mk" x="673" y="241"/><use href="#mk" x="674" y="238"/><use href="#mk" x="674" y="237"/><use href="#mk" x="675" y="235"/><use href="#mk" x="675" y="234"/><use href="#mk" x="676" y="232"/><use href="#mk" x="677" y="230"/><use href="#mk" x="677" y="229"/><use href="#mk" x="678" y="228"/><use href="#mk" x="678" y="226"/><use href="#mk" x="679" y="224"/><use href="#mk" x="680" y="223"/><use href="#mk" x="680" y="222"/><use href="#mk" x="681" y="220"/><use href="#mk" x="682" y="219"/><use href="#mk" x="682" y="217"/><use href="#mk" x="683" y="217"/><use href="#mk" x="683" y="218"/><use href="#mk" x="683" y="219"/><use href="#mk" x="684" y="219"/><use href="#mk" x="685" y="219"/><use href="#mk" x="686" y="220"/><use href="#mk" x="686" y="220"/><use href="#mk" x="687" y="220"/><use href="#mk" x="687" y="221"/><use href="#mk" x="687" y="221"/><use href="#mk" x="688" y="225"/><use href="#mk" x="688" y="228"/><use href="#mk" x="689" y="232"/><use href="#mk" x="689" y="231"/><use href="#mk" x="690" y="231"/><use href="#mk" x="690" y="231"/><use href="#mk" x="690" y="231"/><use href="#mk" x="691" y="230"/><use href="#mk" x="692" y="230"/><use href="#mk" x="693" y="230"/><use href="#mk" x="693" y="229"/><use href="#mk" x="693" y="230"/><use href="#mk" x="694" y="230"/><use href="#mk" x="694" y="231"/><use href="#mk" x="695" y="231"/><use href="#mk" x="696" y="231"/><use href="#mk" x="697" y="232"/><use href="#mk" x="697" y="231"/><use href="#mk" x="697" y="232"/><use href="#mk" x="698" y="234"/><use href="#mk" x="699" y="236"/><use href="#mk" x="699" y="238"/><use href="#mk" x="700" y="240"/><use href="#mk" x="700" y="240"/><use href="#mk" x="701" y="241"/><use href="#mk" x="702" y="242"/><use href="#mk" x="702" y="242"/><use href="#mk" x="702" y="243"/><use href="#mk" x="703" y="243"/><use href="#mk" x="703" y="242"/><use href="#mk" x="704" y="242"/><use href="#mk" x="705" y="241"/><use href="#mk" x="705" y="240"/><use href="#mk" x="706" y="239"/><use href="#mk" x="706" y="239"/><use href="#mk" x="707" y="237"/><use href="#mk" x="708" y="236"/><use href="#mk" x="708" y="240"/><use href="#mk" x="709" y="243"/><use href="#mk" x="709" y="247"/><use href="#mk" x="710" y="250"/><use href="#mk" x="711" y="254"/><use href="#mk" x="711" y="258"/><use href="#mk" x="712" y="262"/><use href="#mk" x="712" y="266"/><use href="#mk" x="713" y="264"/><use href="#mk" x="714" y="261"/><use href="#mk" x="714" y="259"/><use href="#mk" x="715" y="257"/><use href="#mk" x="715" y="254"/><use href="#mk" x="716" y="252"/><use href="#mk" x="715" y="247"/><use href="#mk" x="716" y="244"/><use href="#mk" x="717" y="239"/><use href="#mk" x="717" y="235"/><use href="#mk" x="718" y="232"/><use href="#mk" x="718" y="229"/><use href="#mk" x="719" y="225"/><use href="#mk" x="720" y="223"/><use href="#mk" x="720" y="220"/><use href="#mk" x="721" y="218"/><use href="#mk" x="722" y="216"/><use href="#mk" x="722" y="214"/><use href="#mk" x="723" y="212"/><use href="#mk" x="723" y="209"/><use href="#mk" x="723" y="207"/><use href="#mk" x="724" y="204"/><use href="#mk" x="724" y="200"/><use href="#mk" x="724" y="196"/><use href="#mk" x="726" y="194"/><use href="#mk" x="726" y="191"/><use href="#mk" x="726" y="189"/><use href="#mk" x="727" y="187"/><use href="#mk" x="727" y="184"/><use href="#mk" x="728" y="183"/><use href="#mk" x="729" y="179"/><use href="#mk" x="730" y="178"/><use href="#mk" x="730" y="175"/><use href="#mk" x="731" y="170"/><use href="#mk" x="731" y="165"/><use href="#mk" x="731" y="160"/><use href="#mk" x="732" y="160"/><use href="#mk" x="733" y="159"/><use href="#mk" x="733" y="159"/><use href="#mk" x="734" y="158"/><use href="#mk" x="734" y="157"/><use href="#mk" x="734" y="157"/><use href="#mk" x="735" y="157"/><use href="#mk" x="736" y="156"/><use href="#mk" x="737" y="156"/><use href="#mk" x="737" y="156"/><use href="#mk" x="738" y="157"/><use href="#mk" x="739" y="157"/><use href="#mk" x="739" y="158"/><use href="#mk" x="739" y="158"/><use href="#mk" x="740" y="159"/><use href="#mk" x="741" y="159"/><use href="#mk" x="741" y="160"/><use href="#mk" x="741" y="164"/><use href="#mk" x="741" y="169"/><use href="#mk" x="741" y="173"/><use href="#mk" x="742" y="177"/><use href="#mk" x="742" y="181"/><use href="#mk" x="742" y="184"/><use href="#mk" x="743" y="187"/><use href="#mk" x="743" y="189"/><use href="#mk" x="744" y="191"/><use href="#mk" x="744" y="193"/><use href="#mk" x="745" y="195"/><use href="#mk" x="745" y="197"/><use href="#mk" x="746" y="198"/><use href="#mk" x="747" y="200"/><use href="#mk" x="747" y="200"/><use href="#mk" x="747" y="201"/><use href="#mk" x="748" y="201"/><use href="#mk" x="749" y="202"/><use href="#mk" x="749" y="203"/><use href="#mk" x="750" y="204"/><use href="#mk" x="750" y="204"/><use href="#mk" x="751" y="204"/><use href="#mk" x="752" y="208"/><use href="#mk" x="752" y="211"/><use href="#mk" x="753" y="210"/><use href="#mk" x="753" y="209"/><use href="#mk" x="42" y="187"/><use href="#mk" x="42" y="192"/><use href="#mk" x="42" y="197"/><use href="#mk" x="42" y="202"/><use href="#mk" x="42" y="207"/><use href="#mk" x="43" y="212"/><use href="#mk" x="42" y="217"/><use href="#mk" x="43" y="222"/><use href="#mk" x="43" y="227"/><use href="#mk" x="43" y="232"/><use href="#mk" x="43" y="237"/><use href="#mk" x="43" y="241"/><use href="#mk" x="43" y="246"/><use href="#mk" x="44" y="250"/><use href="#mk" x="44" y="255"/><use href="#mk" x="44" y="259"/><use href="#mk" x="44" y="264"/><use href="#mk" x="44" y="268"/><use href="#mk" x="45" y="273"/><use href="#mk" x="46" y="278"/><use href="#mk" x="46" y="282"/><use href="#mk" x="46" y="285"/><use href="#mk" x="48" y="288"/><use href="#mk" x="48" y="291"/><use href="#mk" x="48" y="294"/><use href="#mk" x="49" y="297"/><use href="#mk" x="38" y="197"/><use href="#mk" x="38" y="202"/><use href="#mk" x="38" y="207"/><use href="#mk" x="38" y="212"/><use href="#mk" x="38" y="217"/><use href="#mk" x="38" y="222"/><use href="#mk" x="38" y="227"/><use href="#mk" x="38" y="232"/><use href="#mk" x="38" y="237"/><use href="#mk" x="38" y="242"/><use href="#mk" x="38" y="247"/><use href="#mk" x="38" y="252"/><use href="#mk" x="38" y="257"/><use href="#mk" x="38" y="262"/><use href="#mk" x="38" y="267"/><use href="#mk" x="38" y="272"/><use href="#mk" x="38" y="277"/><use href="#mk" x="38" y="282"/><use href="#mk" x="38" y="287"/><use href="#mk" x="38" y="292"/><use href="#mk" x="38" y="297"/><use href="#mk" x="38" y="302"/><use href="#mk" x="38" y="307"/><use href="#mk" x="38" y="312"/><use href="#mk" x="38" y="317"/><use href="#mk" x="38" y="322"/><use href="#mk" x="38" y="326"/><use href="#mk" x="39" y="331"/><use href="#mk" x="39" y="335"/><use href="#mk" x="724" y="212"/><use href="#mk" x="725" y="209"/><use href="#mk" x="725" y="206"/><use href="#mk" x="726" y="204"/><use href="#mk" x="726" y="200"/><use href="#mk" x="727" y="197"/><use href="#mk" x="728" y="194"/><use href="#mk" x="728" y="192"/><use href="#mk" x="728" y="189"/><use href="#mk" x="729" y="186"/><use href="#mk" x="729" y="183"/><use href="#mk" x="731" y="181"/><use href="#mk" x="731" y="177"/><use href="#mk" x="732" y="175"/><use href="#mk" x="732" y="172"/><use href="#mk" x="732" y="170"/><use href="#mk" x="733" y="167"/><use href="#mk" x="734" y="165"/><use href="#mk" x="734" y="162"/><use href="#mk" x="713" y="259"/><use href="#mk" x="714" y="255"/><use href="#mk" x="714" y="250"/><use href="#mk" x="715" y="246"/><use href="#mk" x="715" y="242"/><use href="#mk" x="716" y="240"/><use href="#mk" x="716" y="238"/><use href="#mk" x="717" y="236"/><use href="#mk" x="717" y="234"/><use href="#mk" x="718" y="232"/><use href="#mk" x="738" y="172"/><use href="#mk" x="739" y="176"/><use href="#mk" x="739" y="180"/><use href="#mk" x="740" y="184"/><use href="#mk" x="740" y="188"/><use href="#mk" x="741" y="192"/><use href="#mk" x="742" y="194"/><use href="#mk" x="743" y="194"/><use href="#mk" x="743" y="197"/><use href="#mk" x="744" y="197"/><use href="#mk" x="744" y="199"/><use href="#mk" x="744" y="200"/><use href="#mk" x="745" y="202"/><use href="#mk" x="743" y="187"/><use href="#mk" x="743" y="189"/><use href="#mk" x="744" y="190"/><use href="#mk" x="745" y="192"/><use href="#mk" x="746" y="192"/><use href="#mk" x="746" y="194"/><use href="#mk" x="746" y="195"/><use href="#mk" x="747" y="197"/><use href="#mk" x="747" y="197"/><use href="#mk" x="748" y="198"/><use href="#mk" x="748" y="198"/><use href="#mk" x="750" y="199"/><use href="#mk" x="750" y="200"/><use href="#mk" x="751" y="200"/><use href="#mk" x="751" y="201"/><use href="#mk" x="751" y="202"/><use href="#mk" x="752" y="204"/><use href="#mk" x="753" y="204"/><use href="#mk" x="753" y="206"/><use href="#mk" x="754" y="207"/><use href="#mk" x="753" y="210"/><use href="#mk" x="753" y="213"/></g><path d="M40.5 40V359.5M40 359.5H761" stroke="#000" stroke-width="1" fill="none"/><path d="M40 359.5h6 M40 351.5h4 M40 343.5h4 M40 335.5h4 M40 327.5h4 M40 319.5h6 M40 311.5h4 M40 303.5h4 M40 295.5h4 M40 287.5h4 M40 279.5h6 M40 271.5h4 M40 263.5h4 M40 255.5h4 M40 247.5h4 M40 239.5h6 M40 231.5h4 M40 223.5h4 M40 215.5h4 M40 207.5h4 M40 200.5h6 M40 192.5h4 M40 184.5h4 M40 176.5h4 M40 168.5h4 M40 160.5h6 M40 152.5h4 M40 144.5h4 M40 136.5h4 M40 128.5h4 M40 120.5h6 M40 112.5h4 M40 104.5h4 M40 96.5h4 M40 88.5h4 M40 80.5h6 M40 72.5h4 M40 64.5h4 M40 56.5h4 M40 48.5h4 M40 40.5h6 M40.5 359v-5 M56.5 359v-3 M71.5 359v-5 M87.5 359v-3 M103.5 359v-5 M118.5 359v-3 M134.5 359v-5 M150.5 359v-3 M165.5 359v-5 M181.5 359v-3 M197.5 359v-5 M212.5 359v-3 M228.5 359v-5 M243.5 359v-3 M259.5 359v-5 M275.5 359v-3 M290.5 359v-5 M306.5 359v-3 M322.5 359v-5 M337.5 359v-3 M353.5 359v-5 M369.5 359v-3 M384.5 359v-5 M400.5 359v-3 M416.5 359v-5 M431.5 359v-3 M447.5 359v-5 M463.5 359v-3 M478.5 359v-5 M494.5 359v-3 M510.5 359v-5 M525.5 359v-3 M541.5 359v-5 M557.5 359v-3 M572.5 359v-5 M588.5 359v-3 M603.5 359v-5 M619.5 359v-3 M635.5 359v-5 M650.5 359v-3 M666.5 359v-5 M682.5 359v-3 M697.5 359v-5 M713.5 359v-3 M729.5 359v-5 M744.5 359v-3 M760.5 359v-5" stroke="#000" stroke-width="1" fill="none"/><text x="33" y="363.8" font-size="11" text-anchor="end" fill="#000">15</text><text x="33" y="323.9" font-size="11" text-anchor="end" fill="#000">20</text><text x="33" y="284.1" font-size="11" text-anchor="end" fill="#000">25</text><text x="33" y="244.2" font-size="11" text-anchor="end" fill="#000">30</text><text x="33" y="204.3" font-size="11" text-anchor="end" fill="#000">35</text><text x="33" y="164.4" font-size="11" text-anchor="end" fill="#000">40</text><text x="33" y="124.5" font-size="11" text-anchor="end" fill="#000">45</text><text x="33" y="84.7" font-size="11" text-anchor="end" fill="#000">50</text><text x="33" y="44.8" font-size="11" text-anchor="end" fill="#000">55</text><text x="40.0" y="376" font-size="11" text-anchor="middle" fill="#000">0</text><text x="71.3" y="376" font-size="11" text-anchor="middle" fill="#000">2</text><text x="102.6" y="376" font-size="11" text-anchor="middle" fill="#000">4</text><text x="133.9" y="376" font-size="11" text-anchor="middle" fill="#000">6</text><text x="165.2" y="376" font-size="11" text-anchor="middle" fill="#000">8</text><text x="196.5" y="376" font-size="11" text-anchor="middle" fill="#000">10</text><text x="227.8" y="376" font-size="11" text-anchor="middle" fill="#000">12</text><text x="259.1" y="376" font-size="11" text-anchor="middle" fill="#000">14</text><text x="290.4" y="376" font-size="11" text-anchor="middle" fill="#000">16</text><text x="321.7" y="376" font-size="11" text-anchor="middle" fill="#000">18</text><text x="353.0" y="376" font-size="11" text-anchor="middle" fill="#000">20</text><text x="384.3" y="376" font-size="11" text-anchor="middle" fill="#000">22</text><text x="415.7" y="376" font-size="11" text-anchor="middle" fill="#000">24</text><text x="447.0" y="376" font-size="11" text-anchor="middle" fill="#000">26</text><text x="478.3" y="376" font-size="11" text-anchor="middle" fill="#000">28</text><text x="509.6" y="376" font-size="11" text-anchor="middle" fill="#000">30</text><text x="540.9" y="376" font-size="11" text-anchor="middle" fill="#000">32</text><text x="572.2" y="376" font-size="11" text-anchor="middle" fill="#000">34</text><text x="603.5" y="376" font-size="11" text-anchor="middle" fill="#000">36</text><text x="634.8" y="376" font-size="11" text-anchor="middle" fill="#000">38</text><text x="666.1" y="376" font-size="11" text-anchor="middle" fill="#000">40</text><text x="697.4" y="376" font-size="11" text-anchor="middle" fill="#000">42</text><text x="728.7" y="376" font-size="11" text-anchor="middle" fill="#000">44</text><text x="760.0" y="376" font-size="11" text-anchor="middle" fill="#000">46</text><text class="m" x="366" y="17" font-size="12.6" textLength="69" lengthAdjust="spacingAndGlyphs" fill="#000" stroke="#000" stroke-width="0.25">Trace .gpx</text><text class="m" x="759" y="391" font-size="15" text-anchor="end" fill="#000">Distance en km</text><text class="m" transform="translate(12.5,282) rotate(-90)" x="0" y="0" font-size="15" fill="#000">Dénivelé en metres</text><rect x="725.5" y="141" width="65" height="18.5" rx="5" fill="#c4c4c4"/><rect x="723.0" y="138.5" width="65" height="18.5" rx="5" fill="#fff" stroke="#000" stroke-width="1"/><text class="m" x="725.0" y="152.5" font-size="12.6" textLength="55" lengthAdjust="spacingAndGlyphs" fill="#000" stroke="#000" stroke-width="0.25">Pentes :</text><rect x="754.5" y="181.5" width="37" height="18.5" rx="5" fill="#c4c4c4"/><rect x="752.0" y="179.0" width="37" height="18.5" rx="5" fill="#adff2f" stroke="#fff8d8" stroke-width="1"/><text class="m" x="754.0" y="193.0" font-size="12.6" textLength="27" lengthAdjust="spacingAndGlyphs" fill="#fff" stroke="#fff" stroke-width="0.25">&lt; 4%</text><rect x="740.5" y="221.5" width="51" height="18.5" rx="5" fill="#c4c4c4"/><rect x="738.0" y="219.0" width="51" height="18.5" rx="5" fill="#4169e1" stroke="#fff8d8" stroke-width="1"/><text class="m" x="740.0" y="233.0" font-size="12.6" textLength="41" lengthAdjust="spacingAndGlyphs" fill="#fff" stroke="#fff" stroke-width="0.25">4 - 7%</text><rect x="733.5" y="261.5" width="58" height="18.5" rx="5" fill="#c4c4c4"/><rect x="731.0" y="259.0" width="58" height="18.5" rx="5" fill="#cd5c5c" stroke="#fff8d8" stroke-width="1"/><text class="m" x="733.0" y="273.0" font-size="12.6" textLength="48" lengthAdjust="spacingAndGlyphs" fill="#fff" stroke="#fff" stroke-width="0.25">7 - 10%</text><rect x="747.5" y="301.5" width="44" height="18.5" rx="5" fill="#c4c4c4"/><rect x="745.0" y="299.0" width="44" height="18.5" rx="5" fill="#000" stroke="#fff8d8" stroke-width="1"/><text class="m" x="747.0" y="313.0" font-size="12.6" textLength="34" lengthAdjust="spacingAndGlyphs" fill="#fff" stroke="#fff" stroke-width="0.25">&gt; 10%</text></svg></body></html>
